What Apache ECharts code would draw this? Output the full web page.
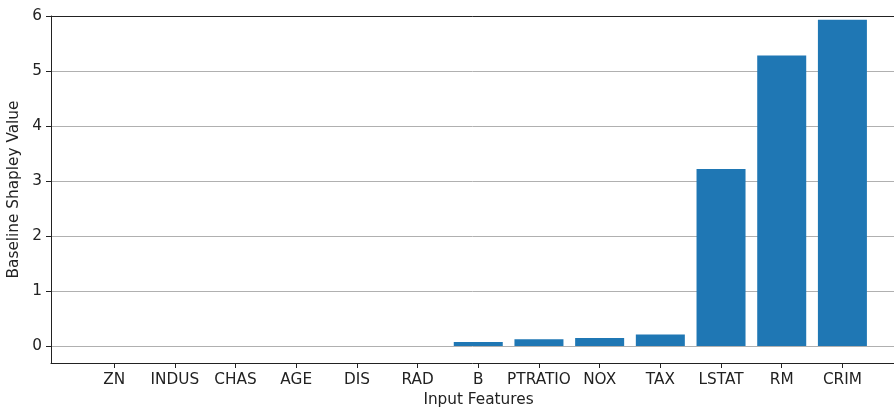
<!DOCTYPE html>
<html>
<head>
<meta charset="utf-8">
<script src="https://cdn.jsdelivr.net/npm/echarts@6/dist/echarts.min.js"></script>
<style>
html,body{margin:0;padding:0;background:#fff;}
#chart{width:894px;height:408px;}
</style>
</head>
<body>
<div id="chart"></div>
<script>
const categories = ['ZN','INDUS','CHAS','AGE','DIS','RAD','B','PTRATIO','NOX','TAX','LSTAT','RM','CRIM'];
const values = [0, 0, 0, 0, 0, 0, 0.07, 0.12, 0.145, 0.21, 3.22, 5.28, 5.93];
const yTicks = [0, 1, 2, 3, 4, 5, 6];
const xTicks = categories.map((c, i) => i);

const font = 'DejaVu Sans';
const fs = 15.3;
const chart = echarts.init(document.getElementById('chart'), null, {renderer: 'canvas'});
chart.setOption({
  animation: false,
  backgroundColor: '#fff',
  textStyle: {fontFamily: font},
  grid: {left: 51, right: 0, top: 16, bottom: 45, containLabel: false, outerBoundsMode: 'none'},
  xAxis: [{
    type: 'value',
    min: -1.04,
    max: 12.85,
    name: 'Input Features',
    nameLocation: 'middle',
    nameGap: 30,
    nameTextStyle: {fontFamily: font, fontSize: fs, color: '#222', padding: [0, 0, 0, 12]},
    axisLine: {show: true, onZero: false, lineStyle: {color: '#222', width: 1}},
    axisTick: {show: true, customValues: xTicks, length: 5, lineStyle: {color: '#222'}},
    axisLabel: {customValues: xTicks, margin: 10, fontFamily: font, fontSize: fs, color: '#222',
      formatter: v => categories[Math.round(v)]},
    splitLine: {show: false}
  }, {
    type: 'value',
    position: 'top',
    min: -1.04,
    max: 12.85,
    axisLine: {show: true, onZero: false, lineStyle: {color: '#222', width: 1}},
    axisTick: {show: false},
    axisLabel: {show: false},
    splitLine: {show: false}
  }],
  yAxis: {
    type: 'value',
    min: -0.31,
    max: 6,
    name: 'Baseline Shapley Value',
    nameLocation: 'middle',
    nameGap: 27,
    nameTextStyle: {fontFamily: font, fontSize: fs, color: '#222'},
    axisLine: {show: true, onZero: false, lineStyle: {color: '#222', width: 1}},
    axisTick: {show: true, customValues: yTicks, length: 5, lineStyle: {color: '#222'}},
    axisLabel: {customValues: yTicks, margin: 9, fontFamily: font, fontSize: fs, color: '#222'},
    splitLine: {show: true, lineStyle: {color: '#b0b0b0', width: 1}}
  },
  series: [{
    type: 'bar',
    xAxisIndex: 0,
    data: values.map((v, i) => [i, v]),
    barWidth: 49,
    itemStyle: {color: '#1f77b4'}
  }]
});
</script>
</body>
</html>
